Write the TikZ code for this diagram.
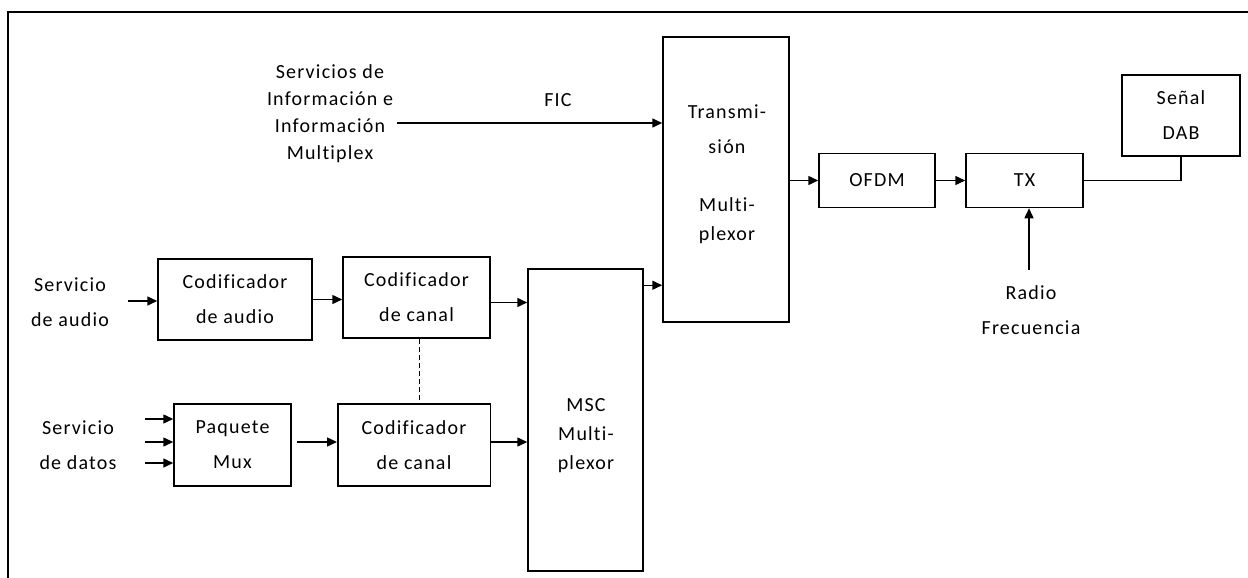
\documentclass[tikz,border=0pt]{standalone}
\usepackage{fontspec}
\setmainfont{Carlito}[LetterSpace=6,Ligatures=NoCommon]
\usetikzlibrary{arrows.meta,calc}
\begin{document}
\begin{tikzpicture}[x=1pt,y=-1pt,
  box/.style={draw, line width=1.5pt, align=center, inner sep=0pt, font=\fontsize{20}{35}\selectfont},
  txt/.style={align=center, inner sep=0pt, font=\fontsize{20}{35}\selectfont},
  arr/.style={line width=1.5pt, -{Triangle[length=10pt,width=9pt]}},
  ln/.style={line width=1.5pt}]
\useasboundingbox (0,0) rectangle (1248,578);
% frame
\draw[ln] (1248,12) -- (8,12) -- (8,578);
% upper part
\node[txt, font=\fontsize{20}{27}\selectfont] (sinfo) at (330,114) {Servicios de\\Información e\\Información\\Multiplex};
\node[txt] (fic) at (558,100) {FIC};
\node[box, minimum width=126pt, minimum height=285pt] (trans) at (726,179.5) {};
\node[txt] (transtxt) at (727,174) {Transmi-\\sión\\[-6pt]\\[-6pt]Multi-\\[-6pt]plexor};
\node[box, minimum width=116pt, minimum height=54pt] (ofdm) at (877,180.5) {OFDM};
\node[box, minimum width=117pt, minimum height=54pt] (tx) at (1024.5,180.5) {TX};
\node[box, minimum width=118pt, minimum height=81pt] (senal) at (1181,115.5) {Señal\\DAB};
\node[txt] (radio) at (1031,310.5) {Radio\\Frecuencia};
% lower part
\node[txt] (saudio) at (70,302) {Servicio\\de audio};
\node[box, minimum width=154pt, minimum height=81pt] (codaudio) at (235,299.5) {Codificador\\de audio};
\node[box, minimum width=147pt, minimum height=81pt] (canal1) at (416.5,297.5) {Codificador\\de canal};
\node[box, minimum width=115pt, minimum height=302pt] (msc) at (585.5,420) {};
\node[txt] (msctxt) at (586,435.5) {MSC\\[-6pt]Multi-\\[-6pt]plexor};
\node[txt] (sdatos) at (78,445.5) {Servicio\\de datos};
\node[box, minimum width=117pt, minimum height=82pt] (paquete) at (232.5,445) {Paquete\\Mux};
\node[box, minimum width=152.5pt, minimum height=82pt] (canal2) at (414,445) {Codificador\\de canal};
% connectors
\coordinate (ficstart) at (397,123);
\draw[arr] (ficstart) -- (ficstart -| trans.west);
\draw[arr] (ofdm.west -| trans.east) -- (ofdm.west);
\draw[arr] (ofdm.east) -- (ofdm.east -| tx.west);
\coordinate (rfstart) at (1029,270);
\draw[arr] (rfstart) -- (rfstart |- tx.south);
\draw[ln] (tx.east) -| (senal.south);
\coordinate (astart) at (128,301);
\draw[arr] (astart) -- (astart -| codaudio.west);
\draw[arr] (codaudio.east) -- (codaudio.east -| canal1.west);
\draw[arr] ([yshift=-5pt]canal1.east) -- ([yshift=-5pt]canal1.east -| msc.west);
\coordinate (m2t) at ($(msc.north east)+(0,17)$);
\draw[arr] (m2t) -- (m2t -| trans.west);
\draw[ln, dashed, dash pattern=on 5pt off 3pt] ([xshift=3pt]canal1.south) -- ([xshift=3pt]canal1.south |- canal2.north);
\coordinate (d1) at (145,419);
\coordinate (d2) at (145,442);
\coordinate (d3) at (145,463);
\draw[arr] (d1) -- (d1 -| paquete.west);
\draw[arr] (d2) -- (d2 -| paquete.west);
\draw[arr] (d3) -- (d3 -| paquete.west);
\draw[arr] ([xshift=5pt,yshift=3pt]paquete.east) -- ([yshift=3pt]canal2.west);
\draw[arr] ([yshift=3pt]canal2.east) -- ([yshift=3pt]canal2.east -| msc.west);
\end{tikzpicture}
\end{document}
